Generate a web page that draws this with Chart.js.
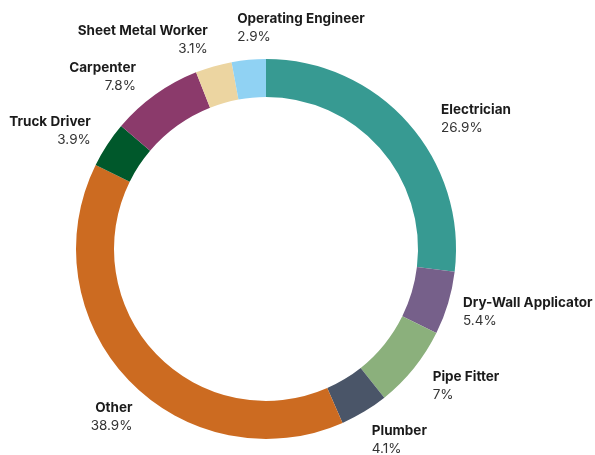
<!DOCTYPE html>
<html>
<head>
<meta charset="utf-8">
<script src="https://cdn.jsdelivr.net/npm/chart.js@4.4.0/dist/chart.umd.min.js"></script>
<style>
  html, body { margin: 0; padding: 0; background: #fff; }
  #wrap { width: 595px; height: 455px; }
</style>
</head>
<body>
<div id="wrap"><canvas id="myChart"></canvas></div>
<script>
// data
const trades = ['Electrician', 'Dry-Wall Applicator', 'Pipe Fitter', 'Plumber', 'Other',
  'Truck Driver', 'Carpenter', 'Sheet Metal Worker', 'Operating Engineer']
const shares = [26.9, 5.4, 7, 4.1, 38.9, 3.9, 7.8, 3.1, 2.9]
const colors = ['#379a92', '#76608a', '#8bb07c', '#4a5568', '#cc6b21',
  '#00582b', '#8b3a6b', '#ecd5a1', '#90d2f3']

const FONT = 'Inter, "Liberation Sans", Arial, sans-serif'

// small hand tweaks so labels don't crowd the ring (same order as trades)
const nudge = [[12, 15], [-12, 1], [-3, 0], [-7, 4], [24, 17], [7, 2], [-3, 5], [2, 0], [-9, -4]]

// draws "name / value%" next to each slice
const outLabels = {
  id: 'outLabels',
  afterDraw(chart) {
    const ctx = chart.ctx
    const meta = chart.getDatasetMeta(0)
    ctx.save()
    meta.data.forEach((arc, i) => {
      const p = arc.getProps(['x', 'y', 'startAngle', 'endAngle', 'outerRadius'], true)
      const mid = (p.startAngle + p.endAngle) / 2
      const dx = Math.cos(mid), dy = Math.sin(mid)
      const r = p.outerRadius + 28
      const px = p.x + dx * r + nudge[i][0]
      const py = p.y + dy * r + nudge[i][1]
      ctx.textAlign = dx > -0.15 ? 'left' : 'right'
      ctx.textBaseline = 'middle'
      ctx.fillStyle = '#1b1b1b'
      ctx.font = 'bold 13.5px ' + FONT
      ctx.fillText(trades[i], px, py - 9)
      ctx.fillStyle = '#333'
      ctx.font = '13.5px ' + FONT
      ctx.fillText(shares[i] + '%', px, py + 9)
    })
    ctx.restore()
  }
}

new Chart(document.getElementById('myChart'), {
  type: 'doughnut',
  data: {
    labels: trades,
    datasets: [{
      data: shares,
      backgroundColor: colors,
      borderWidth: 0
    }]
  },
  options: {
    responsive: true,
    maintainAspectRatio: false,
    animation: false,
    cutout: '80%',
    layout: { padding: { left: 76, right: 139, top: 59, bottom: 16 } },
    plugins: {
      legend: { display: false },
      tooltip: { enabled: false }
    }
  },
  plugins: [outLabels]
})
</script>
</body>
</html>
